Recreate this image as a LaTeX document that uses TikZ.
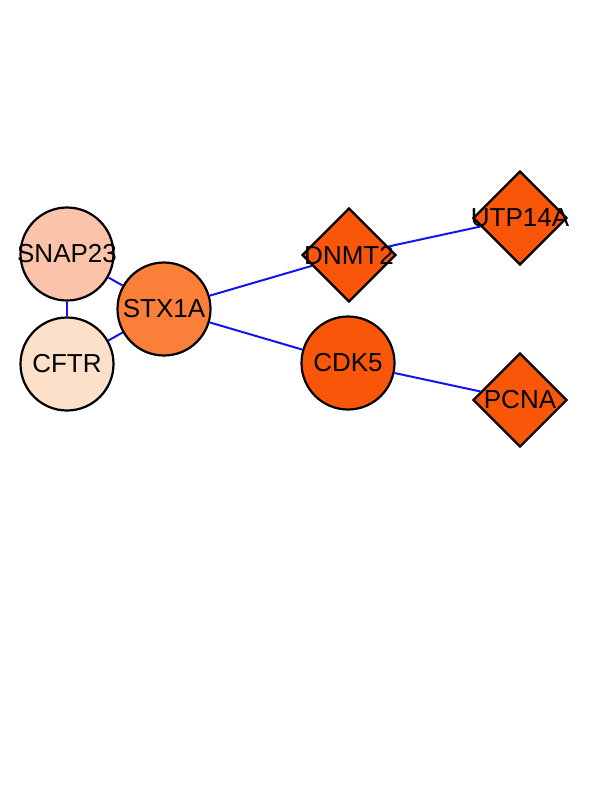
\documentclass[tikz,border=0pt]{standalone}
\usepackage{fontspec}
\setmainfont{Liberation Sans}
\usetikzlibrary{shapes.geometric}
\definecolor{snapfill}{RGB}{251,196,170}
\definecolor{cftrfill}{RGB}{253,224,202}
\definecolor{stxfill}{RGB}{250,128,58}
\definecolor{hotfill}{RGB}{250,86,10}
\definecolor{edgeblue}{RGB}{20,20,240}
\begin{document}
\begin{tikzpicture}[x=1pt,y=-1pt,
		gene/.style={draw=black,line width=2.2pt,inner sep=0pt,
			label={[font=\fontsize{26}{29}\selectfont,inner sep=0pt]center:#1}},
		ball/.style={gene=#1,circle,minimum size=93pt},
		rhomb/.style={gene=#1,diamond,minimum size=94pt}]
	\useasboundingbox (0,0) rectangle (612,792);
	\begin{scope}
		\node[ball=SNAP23,fill=snapfill] (SNAP23) at (67,254) {};
		\node[ball=CFTR,fill=cftrfill] (CFTR) at (67,364) {};
		\node[ball=STX1A,fill=stxfill] (STX1A) at (164,309) {};
		\node[rhomb=DNMT2,fill=hotfill] (DNMT2) at (349,255) {};
		\node[rhomb=UTP14A,fill=hotfill] (UTP14A) at (520,218) {};
		\node[ball=CDK5,fill=hotfill] (CDK5) at (348,363) {};
		\node[rhomb=PCNA,fill=hotfill] (PCNA) at (520,400) {};
	\end{scope}
	
	\begin{scope}[every edge/.style={draw=edgeblue,line width=2pt}]
		\path (SNAP23) edge (CFTR);
		\path (SNAP23) edge (STX1A);
		\path (CFTR) edge (STX1A);
		\path (STX1A) edge (DNMT2);
		\path (STX1A) edge (CDK5);
		\path (DNMT2) edge (UTP14A);
		\path (CDK5) edge (PCNA);
	\end{scope}
\end{tikzpicture}
\end{document}
